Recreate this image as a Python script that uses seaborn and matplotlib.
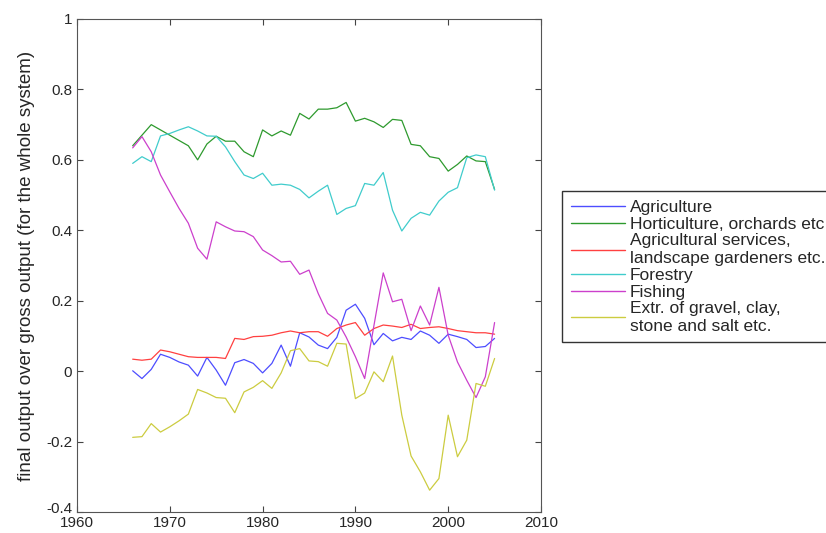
import matplotlib
matplotlib.use("Agg")
import matplotlib.pyplot as plt
import matplotlib.transforms as mtransforms
import seaborn as sns
import pandas as pd

years = list(range(1966, 2006))

agriculture = [0.001, -0.021, 0.005, 0.048, 0.039, 0.026, 0.017, -0.014, 0.039, 0.003,
               -0.040, 0.024, 0.033, 0.022, -0.005, 0.022, 0.074, 0.014, 0.109, 0.097,
               0.074, 0.064, 0.096, 0.173, 0.190, 0.150, 0.075, 0.107, 0.086, 0.096,
               0.090, 0.114, 0.102, 0.079, 0.105, 0.098, 0.090, 0.067, 0.070, 0.093]
horticulture = [0.640, 0.670, 0.700, 0.685, 0.670, 0.655, 0.640, 0.600, 0.645, 0.667,
                0.653, 0.653, 0.623, 0.609, 0.685, 0.668, 0.682, 0.670, 0.732, 0.716,
                0.744, 0.744, 0.748, 0.763, 0.710, 0.718, 0.708, 0.692, 0.715, 0.712,
                0.644, 0.640, 0.609, 0.604, 0.568, 0.587, 0.611, 0.597, 0.595, 0.516]
services = [0.034, 0.031, 0.034, 0.060, 0.055, 0.048, 0.041, 0.039, 0.039, 0.039,
            0.036, 0.093, 0.090, 0.098, 0.099, 0.102, 0.109, 0.114, 0.109, 0.112,
            0.112, 0.099, 0.121, 0.131, 0.138, 0.102, 0.121, 0.131, 0.128, 0.124,
            0.133, 0.121, 0.124, 0.126, 0.121, 0.115, 0.112, 0.109, 0.109, 0.105]
forestry = [0.590, 0.609, 0.595, 0.668, 0.675, 0.685, 0.694, 0.682, 0.668, 0.667,
            0.637, 0.595, 0.557, 0.547, 0.562, 0.528, 0.531, 0.528, 0.516, 0.492,
            0.511, 0.528, 0.445, 0.462, 0.470, 0.533, 0.528, 0.564, 0.457, 0.398,
            0.434, 0.451, 0.443, 0.483, 0.508, 0.521, 0.606, 0.614, 0.609, 0.514]
fishing = [0.634, 0.666, 0.623, 0.557, 0.509, 0.462, 0.420, 0.349, 0.318, 0.424,
           0.410, 0.398, 0.396, 0.382, 0.344, 0.328, 0.310, 0.312, 0.275, 0.287,
           0.220, 0.164, 0.145, 0.097, 0.041, -0.021, 0.130, 0.279, 0.197, 0.204,
           0.115, 0.185, 0.131, 0.238, 0.102, 0.026, -0.026, -0.075, -0.016, 0.138]
extraction = [-0.188, -0.186, -0.149, -0.173, -0.158, -0.141, -0.122, -0.052, -0.062, -0.075,
              -0.077, -0.118, -0.059, -0.046, -0.027, -0.049, -0.005, 0.058, 0.064, 0.029,
              0.027, 0.014, 0.079, 0.077, -0.078, -0.062, -0.002, -0.030, 0.043, -0.125,
              -0.241, -0.286, -0.338, -0.305, -0.125, -0.243, -0.196, -0.035, -0.043, 0.036]

labels = ["Agriculture", "Horticulture, orchards etc",
          "Agricultural services,\nlandscape gardeners etc.", "Forestry", "Fishing",
          "Extr. of gravel, clay,\nstone and salt etc."]
colors = ["#4d4dff", "#2e9a2e", "#ff4040", "#40cccc", "#cc40cc", "#cccc40"]

frames = []
for name, vals in zip(labels, [agriculture, horticulture, services, forestry, fishing, extraction]):
    frames.append(pd.DataFrame({"year": years, "value": vals, "sector": name}))
df = pd.concat(frames, ignore_index=True)

sns.set_style("white")
plt.rcParams["font.family"] = ["Liberation Sans", "DejaVu Sans"]

fig = plt.figure(figsize=(8.26, 5.33), dpi=100)
ax = fig.add_axes([77 / 826, 1 - 512 / 533, (541 - 77) / 826, (512 - 19) / 533])

sns.lineplot(data=df, x="year", y="value", hue="sector", palette=colors,
             linewidth=0.9, ax=ax, legend=False)

ax.set_xlim(1960, 2010)
ax.set_ylim(-0.4, 1)
ax.set_xticks(range(1960, 2011, 10))
ax.set_yticks([-0.4, -0.2, 0, 0.2, 0.4, 0.6, 0.8, 1])
ax.set_yticklabels(["-0.4", "-0.2", "0", "0.2", "0.4", "0.6", "0.8", "1"])
ax.tick_params(direction="in", length=4, labelsize=11, color="#444444",
               left=True, bottom=True, top=True, right=True)
ax.tick_params(axis="x", pad=3)
# lift the lowest y label a little so it clears "1960"
lowest = ax.get_yticklabels()[0]
lowest.set_transform(lowest.get_transform() +
                     mtransforms.ScaledTranslation(0, 3 / 72, fig.dpi_scale_trans))
for s in ax.spines.values():
    s.set_color("#555555")
    s.set_linewidth(0.8)
ax.set_xlabel("")
ax.set_ylabel("final output over gross output (for the whole system)", fontsize=13.5, labelpad=8)

handles = [plt.Line2D([], [], color=c, linewidth=1.0) for c in colors]
fig.legend(handles, labels, loc="upper left", bbox_to_anchor=(562 / 826, 1 - 191 / 533),
           frameon=True, fancybox=False, edgecolor="black", fontsize=12.5,
           handlelength=3.1, labelspacing=0.1, borderpad=0.5, borderaxespad=0.0,
           handletextpad=0.3)

fig.savefig("out.png", dpi=100)
